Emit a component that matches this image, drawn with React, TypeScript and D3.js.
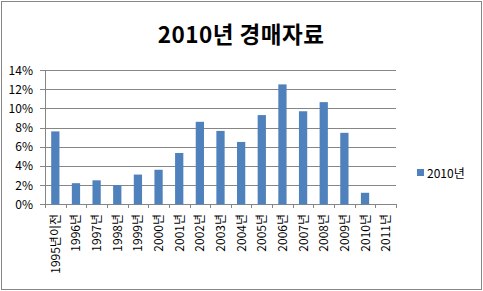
import React from "react";
import * as d3 from "d3";

const categories = ["1995년이전","1996년","1997년","1998년","1999년","2000년","2001년","2002년","2003년","2004년","2005년","2006년","2007년","2008년","2009년","2010년","2011년"];
const values2010 = [7.6, 2.2, 2.5, 2.0, 3.1, 3.6, 5.35, 8.6, 7.65, 6.5, 9.3, 12.5, 9.7, 10.65, 7.45, 1.2, 0];
const yTicks = [0, 2, 4, 6, 8, 10, 12, 14];
const seriesName = "2010년";
const title = "2010년 경매자료";

const W = 483, H = 291;
const FONT = "'Noto Sans CJK KR', 'Noto Sans', sans-serif";
const BAR = "#4F81BD";

export default function App() {
  const x = d3.scaleBand<string>().domain(categories).range([45, 396]).paddingInner(0.6).paddingOuter(0.3);
  const band = d3.scaleBand<string>().domain(categories).range([45, 396]);
  const y = d3.scaleLinear().domain([0, 14]).range([204.3, 70]);
  return (
    <svg width={W} height={H} style={{ position: "absolute", left: 0, top: 0, background: "#fff" }} fontFamily={FONT}>
      <rect x={1.5} y={1.5} width={W - 3} height={H - 3} fill="#fff" stroke="#868686" strokeWidth={1} />
      <text x={241} y={43} textAnchor="middle" fontSize={22.5} fontWeight="bold" fill="#000" letterSpacing={0.5}>{title}</text>
      {yTicks.map(t => (
        <g key={t}>
          <line x1={40} x2={396} y1={Math.round(y(t)) + 0.5} y2={Math.round(y(t)) + 0.5} stroke="#868686" />
          <text x={33} y={y(t) + 4.5} textAnchor="end" fontSize={12} fill="#000">{t}%</text>
        </g>
      ))}
      <line x1={45.5} x2={45.5} y1={70} y2={208} stroke="#868686" />
      {categories.map((c, i) => (
        <line key={"t" + i} x1={Math.round(band(c)! + band.bandwidth()) + 0.5} x2={Math.round(band(c)! + band.bandwidth()) + 0.5} y1={204} y2={208} stroke="#868686" />
      ))}
      {categories.map((c, i) => (
        <rect key={c} x={x(c)!} width={x.bandwidth()} y={y(values2010[i])} height={y(0) - y(values2010[i])} fill={BAR} />
      ))}
      {categories.map((c) => {
        const cx = band(c)! + band.bandwidth() / 2;
        return (
          <text key={"l" + c} transform={`translate(${cx + 4.5},${214}) rotate(-90)`} textAnchor="end" fontSize={12} fill="#000">{c}</text>
        );
      })}
      <rect x={417} y={169} width={7} height={7} fill={BAR} />
      <text x={427} y={177.5} fontSize={12} fill="#000">{seriesName}</text>
    </svg>
  );
}
